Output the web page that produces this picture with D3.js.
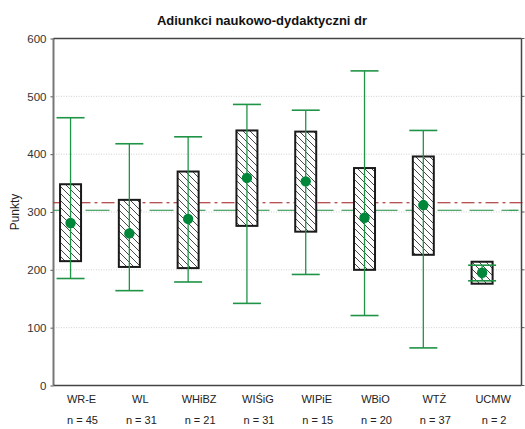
<!DOCTYPE html>
<html>
<head>
<meta charset="utf-8">
<script src="https://cdn.jsdelivr.net/npm/d3@7"></script>
<style>
  body { margin: 0; background: #fff; }
  svg { font-family: "Liberation Sans", Arial, sans-serif; }
</style>
</head>
<body>
<svg id="chart" width="525" height="429"></svg>
<script>
// data
var categories = ["WR-E", "WL", "WHiBZ", "WIŚiG", "WIPiE", "WBiO", "WTŻ", "UCMW"];
var counts = [45, 31, 21, 31, 15, 20, 37, 2];
var means = [281, 263, 288, 359, 353, 290, 312, 195];
var boxLow = [215, 205, 203, 276, 266, 200, 226, 176];
var boxHigh = [348, 321, 370, 441, 439, 376, 396, 214];
var whiskMin = [185, 164, 179, 142, 192, 121, 65, 181];
var whiskMax = [463, 418, 430, 486, 476, 544, 441, 208];
var yTicks = [0, 100, 200, 300, 400, 500, 600];
var refRed = 316;
var refGreen = 303;

var svg = d3.select("#chart");
var pLeft = 53.5, pRight = 521.5, pTop = 38.5, pBottom = 385.5;

var x = d3.scaleLinear().domain([-0.29, 7.67]).range([pLeft, pRight]);
var y = d3.scaleLinear().domain([0, 600]).range([pBottom, pTop]);

// hatch pattern for boxes
var defs = svg.append("defs");
var pat = defs.append("pattern")
    .attr("id", "hatch")
    .attr("patternUnits", "userSpaceOnUse")
    .attr("width", 7).attr("height", 7);
pat.append("rect").attr("width", 7).attr("height", 7).attr("fill", "#fff");
pat.append("path")
    .attr("d", "M-1,-1 L8,8 M-1,6 L1,8 M6,-1 L8,1")
    .attr("stroke", "#333").attr("stroke-width", 0.9);

// title
svg.append("text")
    .attr("x", 262).attr("y", 25)
    .attr("text-anchor", "middle")
    .style("font-size", "13px").style("font-weight", "bold")
    .attr("fill", "#111")
    .text("Adiunkci naukowo-dydaktyczni dr");

// gridlines
svg.append("g").selectAll("line")
    .data(yTicks.filter(function (d) { return d > 0 && d < 600; }))
    .join("line")
    .attr("x1", pLeft).attr("x2", pRight)
    .attr("y1", function (d) { return y(d); })
    .attr("y2", function (d) { return y(d); })
    .attr("stroke", "#bdbdbd").attr("stroke-width", 0.7)
    .attr("stroke-dasharray", "1,1.5");

// y axis
var yAxis = svg.append("g")
    .attr("transform", "translate(" + pLeft + ",0)")
    .call(d3.axisLeft(y).tickValues(yTicks).tickSize(3).tickPadding(4));
yAxis.select(".domain").remove();
yAxis.selectAll("line").attr("stroke", "#555");
yAxis.selectAll("text").style("font-size", "11.5px").attr("fill", "#333")
    .style("font-family", "Liberation Sans, Arial, sans-serif");

// right ticks
svg.append("g").selectAll("line")
    .data(yTicks)
    .join("line")
    .attr("x1", pRight).attr("x2", pRight + 3)
    .attr("y1", function (d) { return y(d); })
    .attr("y2", function (d) { return y(d); })
    .attr("stroke", "#555");

// frame
svg.append("line").attr("x1", pLeft).attr("x2", pLeft).attr("y1", pTop).attr("y2", pBottom)
    .attr("stroke", "#777").attr("stroke-width", 2);
svg.append("line").attr("x1", pLeft).attr("x2", pRight).attr("y1", pBottom).attr("y2", pBottom)
    .attr("stroke", "#444").attr("stroke-width", 1.5);
svg.append("line").attr("x1", pLeft).attr("x2", pRight).attr("y1", pTop).attr("y2", pTop)
    .attr("stroke", "#444").attr("stroke-width", 1.5);
svg.append("line").attr("x1", pRight).attr("x2", pRight).attr("y1", pTop).attr("y2", pBottom)
    .attr("stroke", "#444").attr("stroke-width", 1.5);

// y label
svg.append("text")
    .attr("transform", "translate(19," + y(300) + ") rotate(-90)")
    .attr("text-anchor", "middle")
    .style("font-size", "12px").attr("fill", "#222")
    .text("Punkty");

// reference lines
svg.append("line")
    .attr("x1", pLeft).attr("x2", 525)
    .attr("y1", y(refRed)).attr("y2", y(refRed))
    .attr("stroke", "#9e1a1a").attr("stroke-width", 1.2)
    .attr("stroke-dasharray", "13,4,3,4");
svg.append("line")
    .attr("x1", pLeft).attr("x2", pRight - 3)
    .attr("y1", y(refGreen)).attr("y2", y(refGreen))
    .attr("stroke", "#1f8f40").attr("stroke-width", 1.2)
    .attr("stroke-dasharray", "24,8");

var boxW = 21, capW = 28;
var green = "#1f9346";
var idx = d3.range(categories.length);

var g = svg.append("g");

// boxes
g.selectAll("rect.box")
    .data(idx)
    .join("rect")
    .attr("class", "box")
    .attr("x", function (i) { return x(i) - boxW / 2; })
    .attr("y", function (i) { return y(boxHigh[i]); })
    .attr("width", boxW)
    .attr("height", function (i) { return y(boxLow[i]) - y(boxHigh[i]); })
    .attr("fill", "url(#hatch)")
    .attr("stroke", "#1a1a1a").attr("stroke-width", 2);

// whiskers
g.selectAll("line.whisk")
    .data(idx)
    .join("line")
    .attr("class", "whisk")
    .attr("x1", function (i) { return x(i); })
    .attr("x2", function (i) { return x(i); })
    .attr("y1", function (i) { return y(whiskMin[i]); })
    .attr("y2", function (i) { return y(whiskMax[i]); })
    .attr("stroke", green).attr("stroke-width", 1.3);

g.selectAll("line.capTop")
    .data(idx)
    .join("line")
    .attr("class", "capTop")
    .attr("x1", function (i) { return x(i) - capW / 2; })
    .attr("x2", function (i) { return x(i) + capW / 2; })
    .attr("y1", function (i) { return y(whiskMax[i]); })
    .attr("y2", function (i) { return y(whiskMax[i]); })
    .attr("stroke", green).attr("stroke-width", 1.6);

g.selectAll("line.capBot")
    .data(idx)
    .join("line")
    .attr("class", "capBot")
    .attr("x1", function (i) { return x(i) - capW / 2; })
    .attr("x2", function (i) { return x(i) + capW / 2; })
    .attr("y1", function (i) { return y(whiskMin[i]); })
    .attr("y2", function (i) { return y(whiskMin[i]); })
    .attr("stroke", green).attr("stroke-width", 1.6);

// means
g.selectAll("circle")
    .data(idx)
    .join("circle")
    .attr("cx", function (i) { return x(i); })
    .attr("cy", function (i) { return y(means[i]); })
    .attr("r", 5.2)
    .attr("fill", "#00873a");

// category labels
svg.append("g").selectAll("text")
    .data(idx)
    .join("text")
    .attr("x", function (i) { return x(i) + 11; })
    .attr("y", 403)
    .attr("text-anchor", "middle")
    .style("font-size", "11px").attr("fill", "#222")
    .text(function (i) { return categories[i]; });

svg.append("g").selectAll("text")
    .data(idx)
    .join("text")
    .attr("x", function (i) { return x(i) + 12; })
    .attr("y", 424)
    .attr("text-anchor", "middle")
    .style("font-size", "11px").attr("fill", "#222")
    .text(function (i) { return "n = " + counts[i]; });
</script>
</body>
</html>
